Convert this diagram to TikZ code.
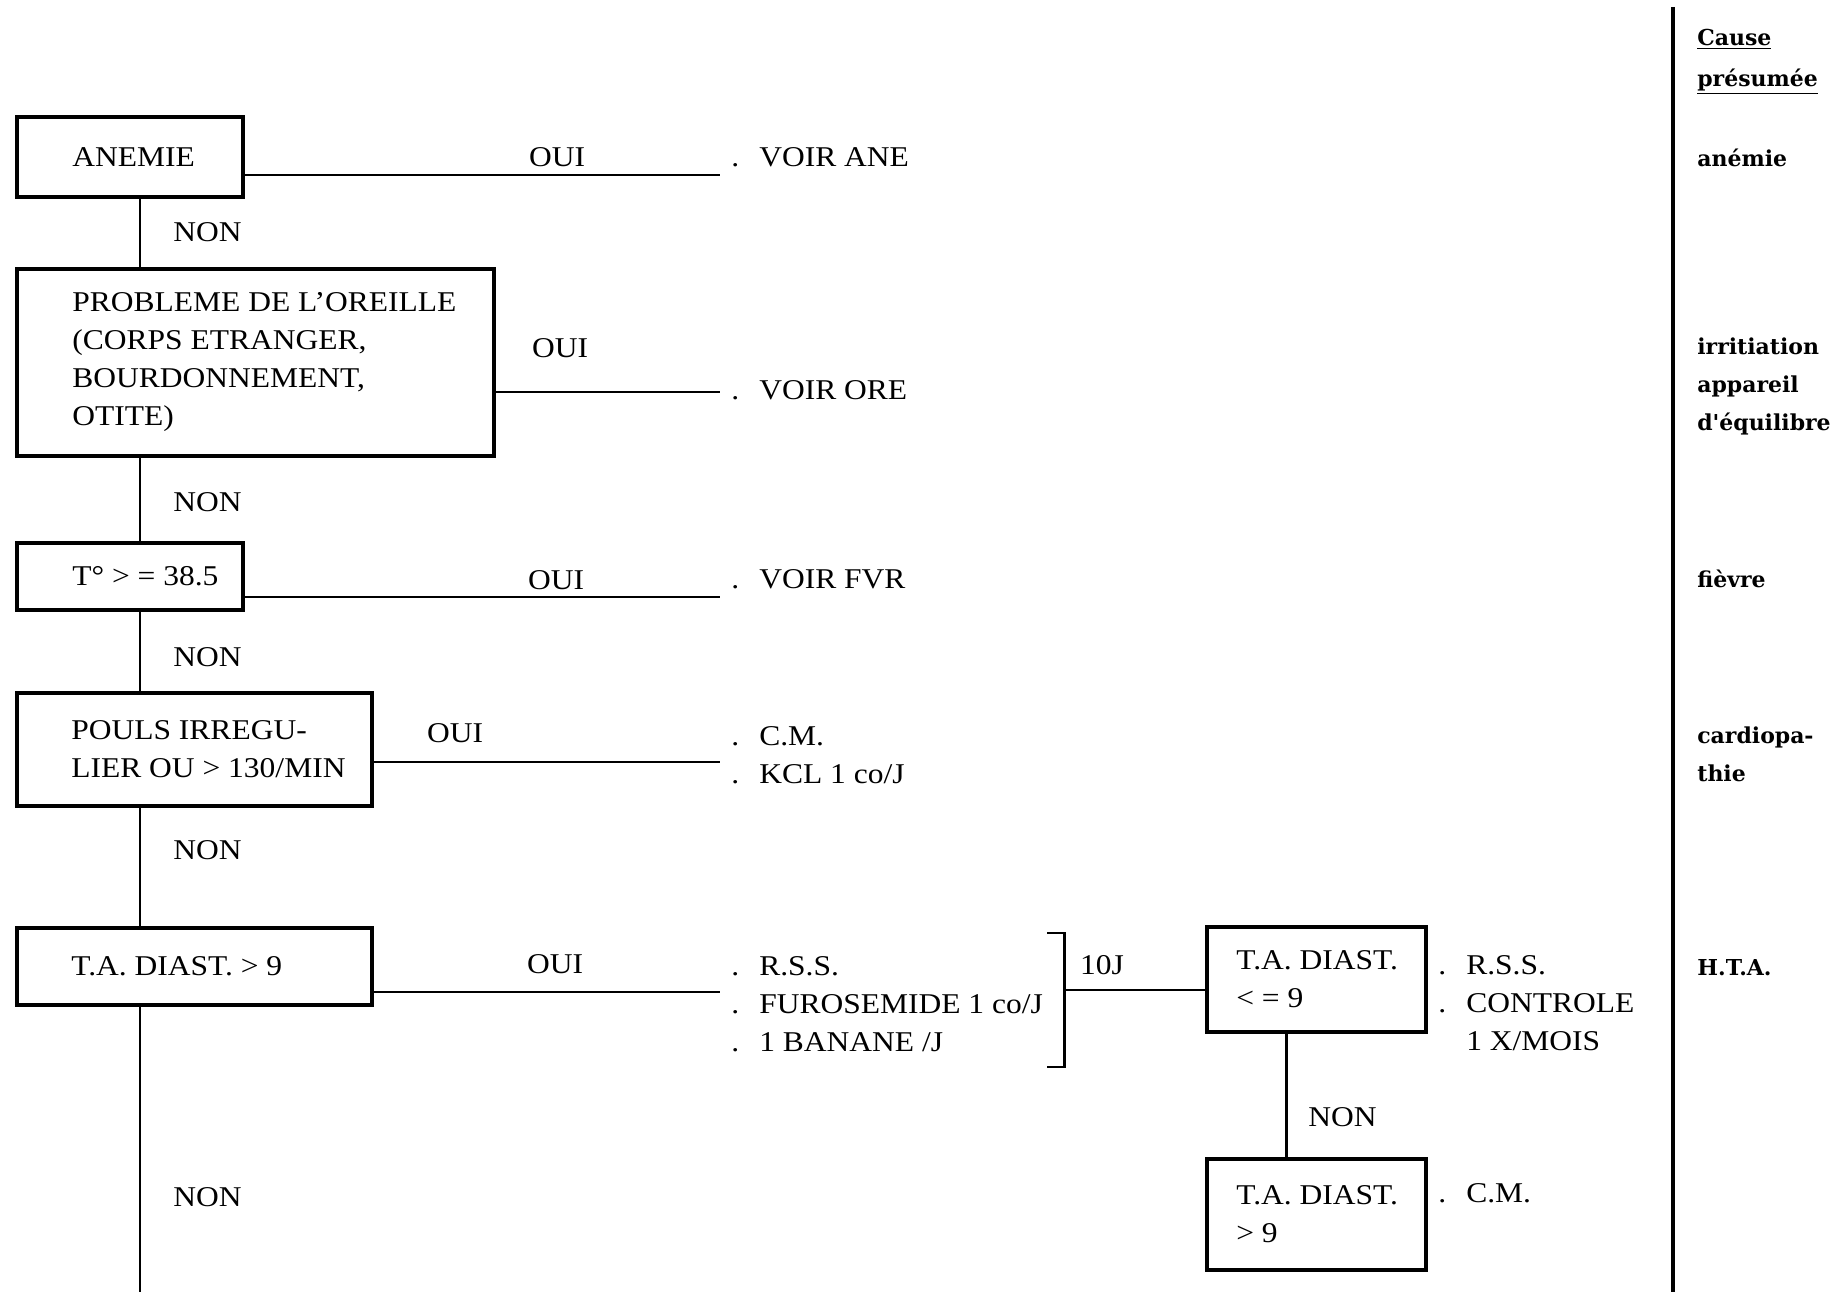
\documentclass[tikz,border=0pt]{standalone}
\usepackage{fontspec}
\setmainfont{Liberation Serif}[FakeStretch=1.1]
\newfontfamily\causefont{DejaVu Serif}
\usetikzlibrary{positioning}

\tikzset{
  boite/.style={draw, rectangle, line width=2pt, inner sep=0pt, anchor=north west},
  txt/.style={anchor=west, align=left, inner sep=0pt, font=\fontsize{16.3}{21.6}\selectfont},
  lien/.style={line width=1.7pt},
  cause/.style={anchor=west, align=left, inner sep=0pt, font=\causefont\bfseries\fontsize{12.5}{21.6}\selectfont}
}
\newcommand{\puce}{.\hspace{0.7em}}

\begin{document}
\begin{tikzpicture}
\useasboundingbox (0,0) rectangle (36.76,-25.84);

% questions de la colonne de gauche
\node[boite, minimum width=4.52cm, minimum height=1.60cm] (ane) at (0.30,-2.30) {};
\node[txt, right=1.14cm of ane.west] (tane) {ANEMIE};
\node[boite, minimum width=9.54cm, minimum height=3.74cm] (ore) at (0.30,-5.34) {};
\node[txt, right=1.14cm of ore.west] (tore) {PROBLEME DE L'OREILLE\\(CORPS ETRANGER,\\BOURDONNEMENT,\\OTITE)};
\node[boite, minimum width=4.52cm, minimum height=1.34cm] (tmp) at (0.30,-10.82) {};
\node[txt, right=1.14cm of tmp.west] (ttmp) {T° > = 38.5};
\node[boite, minimum width=7.10cm, minimum height=2.26cm] (pou) at (0.30,-13.82) {};
\node[txt, right=1.12cm of pou.west] (tpou) {POULS IRREGU-\\LIER OU > 130/MIN};
\node[boite, minimum width=7.10cm, minimum height=1.54cm] (tad) at (0.30,-18.52) {};
\node[txt, right=1.12cm of tad.west] (ttad) {T.A. DIAST. > 9};

% controle apres 10 jours
\node[boite, minimum width=4.38cm, minimum height=2.10cm] (tb) at (24.10,-18.50) {};
\node[txt, right=0.62cm of tb.west] (ttb) {T.A. DIAST.\\< = 9};
\node[boite, minimum width=4.38cm, minimum height=2.22cm] (tc) at (24.10,-23.14) {};
\node[txt, right=0.62cm of tc.west] (ttc) {T.A. DIAST.\\> 9};

% tronc NON
\coordinate (tr) at (2.80,0);
\coordinate (bas) at (2.80,-25.84);
\draw[lien] (ane.south -| tr) -- (ore.north -| tr);
\draw[lien] (ore.south -| tr) -- (tmp.north -| tr);
\draw[lien] (tmp.south -| tr) -- (pou.north -| tr);
\draw[lien] (pou.south -| tr) -- (tad.north -| tr);
\draw[lien] (tad.south -| tr) -- (bas);
\node[txt] (n1) at (3.46,-4.64) {NON};
\node[txt] (n2) at (3.46,-10.04) {NON};
\node[txt] (n3) at (3.46,-13.14) {NON};
\node[txt] (n4) at (3.46,-17.00) {NON};
\node[txt] (n5) at (3.46,-23.94) {NON};

% branches OUI
\coordinate (fa) at (14.40,-3.50);
\coordinate (fo) at (14.40,-7.84);
\coordinate (ft) at (14.40,-11.94);
\coordinate (fp) at (14.40,-15.24);
\coordinate (fd) at (14.40,-19.84);
\draw[lien] (ane.east |- fa) -- (fa);
\draw[lien] (ore.east |- fo) -- (fo);
\draw[lien] (tmp.east |- ft) -- (ft);
\draw[lien] (pou.east |- fp) -- (fp);
\draw[lien] (tad.east |- fd) -- (fd);
\node[txt, anchor=center] (o1) at (11.14,-3.14) {OUI};
\node[txt, anchor=center] (o2) at (11.20,-6.96) {OUI};
\node[txt, anchor=center] (o3) at (11.12,-11.60) {OUI};
\node[txt, anchor=center] (o4) at (9.10,-14.66) {OUI};
\node[txt, anchor=center] (o5) at (11.10,-19.28) {OUI};

% conduites a tenir
\node[txt] (ra) at (14.62,-3.14) {\puce VOIR ANE};
\node[txt] (ro) at (14.62,-7.80) {\puce VOIR ORE};
\node[txt] (rf) at (14.62,-11.58) {\puce VOIR FVR};
\node[txt] (rp) at (14.62,-15.10) {\puce C.M.\\\puce KCL 1 co/J};
\node[txt] (rd) at (14.62,-20.08) {\puce R.S.S.\\\puce FUROSEMIDE 1 co/J\\\puce 1 BANANE /J};
\node[txt] (rb) at (28.76,-20.06) {\puce R.S.S.\\\puce CONTROLE\\\hphantom{\puce}1 X/MOIS};
\node[txt] (rc) at (28.76,-23.86) {\puce C.M.};

% accolade 10J
\coordinate (crh) at (20.94,-18.66);
\coordinate (crb) at (20.94,-21.34);
\coordinate (brk) at (21.28,-19.80);
\draw[lien] (crh) -- ++(0.34,0) |- (crb);
\draw[lien] (brk) -- (tb.west |- brk);
\node[txt, anchor=center] (dixj) at (22.04,-19.30) {10J};
\draw[lien] ([xshift=-0.59cm]tb.south) -- ([xshift=-0.59cm]tc.north);
\node[txt] (n6) at (26.16,-22.34) {NON};

% colonne cause presumee
\coordinate (sh) at (33.46,-0.14);
\coordinate (sb) at (33.46,-25.84);
\draw[line width=2pt] (sh) -- (sb);
\node[cause, font=\causefont\bfseries\fontsize{12.5}{23.3}\selectfont] (ct) at (33.94,-1.23) {\underline{Cause}\\\underline{présumée}};
\node[cause] (c1) at (33.94,-3.16) {anémie};
\node[cause] (c2) at (33.94,-7.72) {irritiation\\appareil\\d'équilibre};
\node[cause] (c3) at (33.94,-11.58) {fièvre};
\node[cause] (c4) at (33.94,-15.08) {cardiopa-\\thie};
\node[cause] (c5) at (33.94,-19.36) {H.T.A.};
\end{tikzpicture}
\end{document}
